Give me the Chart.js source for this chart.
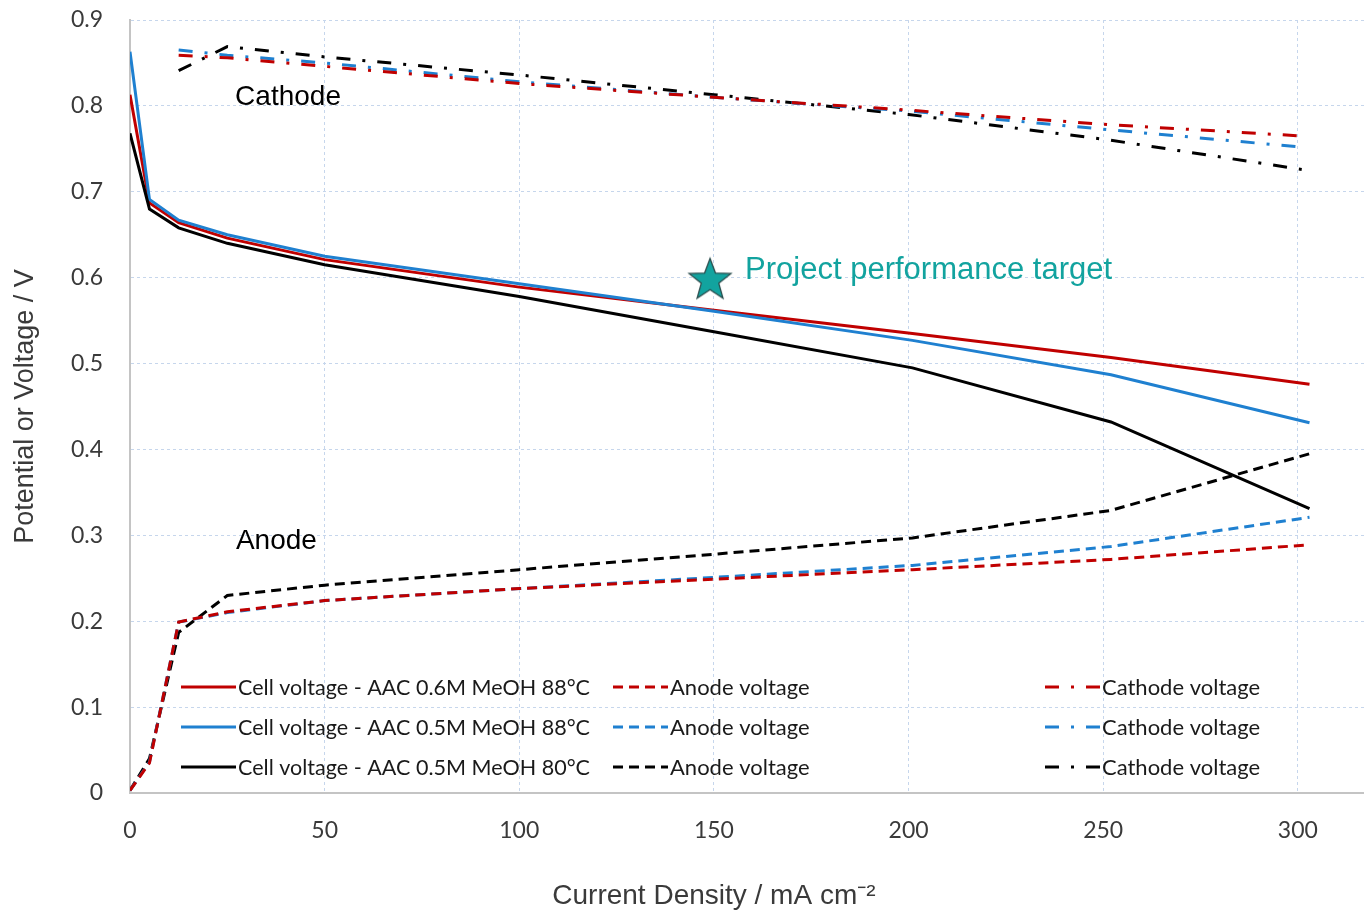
<!DOCTYPE html>
<html>
<head>
<meta charset="utf-8">
<script src="https://cdn.jsdelivr.net/npm/chart.js@4.4.1/dist/chart.umd.min.js"></script>
<style>
  html, body { margin: 0; padding: 0; background: #ffffff; }
  #wrap { width: 1364px; height: 911px; position: relative; }
</style>
</head>
<body>
<div id="wrap"><canvas id="c" width="1364" height="911"></canvas></div>
<script>
// ---- data ----
const currentDensity = [0, 5, 12.5, 25, 50, 100, 150, 201, 252, 303];
const cathodeCurrent = [12.5, 25, 50, 100, 150, 200, 252, 301];

const cell06M88 = [0.813, 0.687, 0.664, 0.646, 0.621, 0.589, 0.562, 0.535, 0.507, 0.476];
const cell05M88 = [0.863, 0.691, 0.667, 0.650, 0.625, 0.593, 0.561, 0.527, 0.487, 0.431];
const cell05M80 = [0.768, 0.680, 0.658, 0.640, 0.615, 0.578, 0.537, 0.495, 0.432, 0.331];

const anode06M88 = [0.003, 0.035, 0.199, 0.211, 0.224, 0.238, 0.249, 0.260, 0.272, 0.289];
const anode05M88 = [0.003, 0.036, 0.199, 0.210, 0.224, 0.238, 0.251, 0.265, 0.287, 0.321];
const anode05M80 = [0.003, 0.040, 0.187, 0.230, 0.242, 0.260, 0.278, 0.297, 0.329, 0.395];

const cathode06M88 = [0.859, 0.856, 0.846, 0.826, 0.810, 0.795, 0.778, 0.765];
const cathode05M88 = [0.865, 0.859, 0.850, 0.828, 0.810, 0.794, 0.772, 0.752];
const cathode05M80 = [0.841, 0.869, 0.857, 0.836, 0.813, 0.790, 0.760, 0.726];

const targetX = [149];
const targetY = [0.598];

const cellLabels = ['Cell voltage - AAC 0.6M MeOH 88°C', 'Cell voltage - AAC 0.5M MeOH 88°C', 'Cell voltage - AAC 0.5M MeOH 80°C'];
const anodeLabel = 'Anode voltage';
const cathodeLabel = 'Cathode voltage';
const targetLabel = 'Project performance target';
const xTitle = 'Current Density / mA cm⁻²';
const yTitle = 'Potential or Voltage / V';
const xTicks = [0, 50, 100, 150, 200, 250, 300];
const yTicks = [0, 0.1, 0.2, 0.3, 0.4, 0.5, 0.6, 0.7, 0.8, 0.9];

// ---- styling ----
const RED = '#c00000', BLUE = '#1f80d0', BLACK = '#000000', TEAL = '#12a39f';
const ANODE_DASH = [10, 6];
const CATH_DASH = [14, 12, 3, 12];

function pts(xs, ys) { return ys.map((y, i) => ({ x: xs[i], y: y })); }

// star image for the target point
function makeStar() {
  const c = document.createElement('canvas');
  c.width = 48; c.height = 48;
  const g = c.getContext('2d');
  const cx = 24, cy = 25, R = 22, r = 9.2;
  g.beginPath();
  for (let i = 0; i < 10; i++) {
    const a = -Math.PI / 2 + i * Math.PI / 5;
    const rad = i % 2 === 0 ? R : r;
    const px = cx + rad * Math.cos(a), py = cy + rad * Math.sin(a);
    if (i === 0) g.moveTo(px, py); else g.lineTo(px, py);
  }
  g.closePath();
  g.fillStyle = TEAL;
  g.fill();
  g.lineWidth = 1.3;
  g.strokeStyle = '#2a4c4c';
  g.stroke();
  return c;
}
const starImg = makeStar();

function lineDs(label, xs, ys, color, dash, group) {
  return {
    label: label, data: pts(xs, ys), borderColor: color, backgroundColor: color,
    borderWidth: 3, borderDash: dash, pointRadius: 0, pointHoverRadius: 0,
    tension: 0, fill: false, showLine: true, group: group, borderCapStyle: 'butt'
  };
}

const datasets = [
  lineDs(cathodeLabel, cathodeCurrent, cathode06M88, RED, CATH_DASH, 'cath'),
  lineDs(cathodeLabel, cathodeCurrent, cathode05M88, BLUE, CATH_DASH, 'cath'),
  lineDs(cathodeLabel, cathodeCurrent, cathode05M80, BLACK, CATH_DASH, 'cath'),
  lineDs(anodeLabel, currentDensity, anode06M88, RED, ANODE_DASH, 'anode'),
  lineDs(anodeLabel, currentDensity, anode05M88, BLUE, ANODE_DASH, 'anode'),
  lineDs(anodeLabel, currentDensity, anode05M80, BLACK, ANODE_DASH, 'anode'),
  lineDs(cellLabels[2], currentDensity, cell05M80, BLACK, [], 'cell'),
  lineDs(cellLabels[1], currentDensity, cell05M88, BLUE, [], 'cell'),
  lineDs(cellLabels[0], currentDensity, cell06M88, RED, [], 'cell'),
  {
    label: targetLabel, data: pts(targetX, targetY), showLine: false,
    pointStyle: starImg, pointRadius: 22, pointHoverRadius: 22,
    borderColor: TEAL, backgroundColor: TEAL
  }
];

const TEXT = '#3a3a3a';

const decorPlugin = {
  id: 'decor',
  afterDatasetsDraw(chart) {
    const ctx = chart.ctx;
    const xs = chart.scales.x, ys = chart.scales.y;
    ctx.save();
    // annotations
    ctx.textBaseline = 'middle';
    ctx.textAlign = 'left';
    ctx.fillStyle = '#000';
    ctx.font = '28px "Liberation Sans", Arial, sans-serif';
    ctx.fillText('Cathode', xs.getPixelForValue(27), ys.getPixelForValue(0.810));
    ctx.fillText('Anode', xs.getPixelForValue(27.2), ys.getPixelForValue(0.293));
    ctx.fillStyle = TEAL;
    ctx.font = '31px "Liberation Sans", Arial, sans-serif';
    ctx.fillText(targetLabel, xs.getPixelForValue(158), ys.getPixelForValue(0.608));

    // legend (3 rows x 3 columns)
    const rowsY = [687, 727, 767];
    const colX = [181, 613, 1045];
    const lineLen = 55;
    const maxW = [352, 142, 160];
    const cellDs = [datasets[8], datasets[7], datasets[6]];
    const anodeDs = [datasets[3], datasets[4], datasets[5]];
    const cathDs = [datasets[0], datasets[1], datasets[2]];
    const cols = [cellDs, anodeDs, cathDs];
    ctx.font = '22px Lato, "Open Sans", sans-serif';
    for (let c = 0; c < 3; c++) {
      for (let r = 0; r < 3; r++) {
        const ds = cols[c][r];
        const y = rowsY[r];
        ctx.beginPath();
        ctx.setLineDash(ds.borderDash || []);
        ctx.lineDashOffset = 0;
        ctx.lineWidth = 3;
        ctx.lineCap = 'butt';
        ctx.strokeStyle = ds.borderColor;
        ctx.moveTo(colX[c], y);
        ctx.lineTo(colX[c] + lineLen, y);
        ctx.stroke();
        ctx.setLineDash([]);
        ctx.fillStyle = '#1a1a1a';
        ctx.fillText(ds.label, colX[c] + lineLen + 2, y + 1, maxW[c]);
      }
    }
    ctx.restore();
  },
  afterDraw(chart) {
    const ctx = chart.ctx;
    const xs = chart.scales.x;
    ctx.save();
    ctx.fillStyle = TEXT;
    ctx.font = '28px "Liberation Sans", Arial, sans-serif';
    ctx.textAlign = 'center';
    ctx.textBaseline = 'middle';
    const cx = (xs.getPixelForValue(0) + xs.getPixelForValue(300)) / 2;
    ctx.fillText(xTitle, cx, 896);
    ctx.restore();
  }
};

const bgPlugin = {
  id: 'bg',
  beforeDraw(chart) {
    const ctx = chart.ctx;
    ctx.save();
    ctx.fillStyle = '#ffffff';
    ctx.fillRect(0, 0, chart.width, chart.height);
    ctx.restore();
  }
};

new Chart(document.getElementById('c'), {
  type: 'scatter',
  data: { datasets: datasets },
  plugins: [bgPlugin, decorPlugin],
  options: {
    responsive: false,
    animation: false,
    events: [],
    layout: { autoPadding: false, padding: { top: 20, right: 0, left: 0, bottom: 0 } },
    plugins: { legend: { display: false }, tooltip: { enabled: false }, title: { display: false } },
    scales: {
      x: {
        type: 'linear', min: 0, max: 317,
        afterFit(s) { s.height = 118; s.paddingLeft = 0; s.paddingRight = 0; s.paddingTop = 0; s.paddingBottom = 0; },
        afterBuildTicks(s) { s.ticks = xTicks.map(v => ({ value: v })); },
        grid: { color: '#c6d6ec', lineWidth: 1, drawTicks: false, tickLength: 0 },
        border: { display: true, color: '#c4c4c4', width: 2, dash: [3, 3] },
        ticks: { color: TEXT, font: { family: 'Lato, "Open Sans", sans-serif', size: 23 }, padding: 24, maxRotation: 0, autoSkip: false, includeBounds: false },
        title: { display: false }
      },
      y: {
        type: 'linear', min: 0, max: 0.9,
        afterFit(s) { s.width = 130; s.paddingTop = 0; s.paddingBottom = 0; s.paddingLeft = 0; s.paddingRight = 0; },
        afterBuildTicks(s) { s.ticks = yTicks.map(v => ({ value: v })); },
        grid: { color: '#c6d6ec', lineWidth: 1, drawTicks: false, tickLength: 0 },
        border: { display: true, color: '#c4c4c4', width: 2, dash: [3, 3] },
        ticks: { color: TEXT, font: { family: 'Lato, "Open Sans", sans-serif', size: 23 }, padding: 27, autoSkip: false, callback: v => String(Math.round(v * 10) / 10) },
        title: { display: true, text: yTitle, color: TEXT, font: { family: '"Liberation Sans", Arial, sans-serif', size: 27, lineHeight: 1 }, padding: { top: 12, bottom: 0 } }
      }
    }
  }
});
</script>
</body>
</html>
